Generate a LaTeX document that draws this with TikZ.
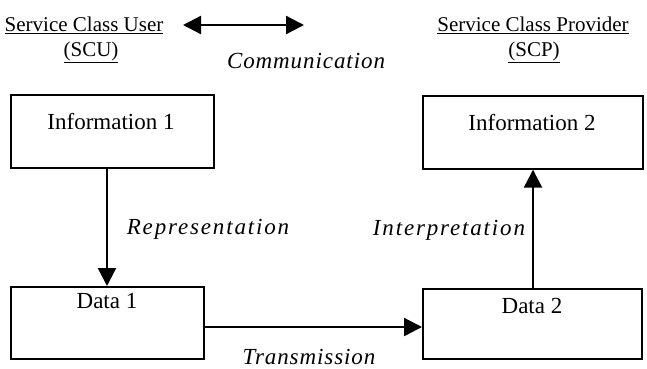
\documentclass[tikz,border=0pt]{standalone}
\usepackage{fontspec}
\setmainfont{Liberation Serif}
\usetikzlibrary{arrows.meta}
\tikzset{
  box/.style={draw, line width=1.7pt, inner sep=0pt},
  conn/.style={line width=2.3pt, -{Triangle[width=18pt,length=18pt]}},
  boxtext/.style={font=\fontsize{23}{26}\selectfont, inner sep=0pt},
  lbl/.style={font=\fontsize{23}{27}\selectfont\itshape, inner sep=0pt},
  hdr/.style={font=\fontsize{21}{24}\selectfont, inner sep=0pt}
}
\begin{document}
\begin{tikzpicture}[x=1pt,y=-1pt]
\useasboundingbox (0,0) rectangle (647,368);
% boxes
\node[box, minimum width=203pt, minimum height=73pt, anchor=north west] (info1) at (10,94) {};
\node[box, minimum width=193pt, minimum height=72pt, anchor=north west] (data1) at (10,286) {};
\node[box, minimum width=220pt, minimum height=73pt, anchor=north west] (info2) at (422,95) {};
\node[box, minimum width=219pt, minimum height=70pt, anchor=north west] (data2) at (422,288) {};
% box texts
\node[boxtext] (t1) at (111,122) {Information 1};
\node[boxtext] (t2) at (107,301) {Data 1};
\node[boxtext] (t3) at (532,123) {Information 2};
\node[boxtext] (t4) at (532,306) {Data 2};
% connectors
\draw[conn] (info1.south -| 107,0) -- (data1.north -| 107,0);
\draw[conn] (data2.north -| 533,0) -- (info2.south -| 533,0);
\draw[conn] (data1.east |- 0,327) -- (data2.west |- 0,327);
% labels
\node[lbl] (rep) at (208,229) {\addfontfeature{LetterSpace=8}Representation};
\node[lbl] (int) at (449,230) {\addfontfeature{LetterSpace=8}Interpretation};
\node[lbl] (tra) at (309,357) {\addfontfeature{LetterSpace=4}Transmission};
\node[lbl] (com) at (306,61) {\addfontfeature{LetterSpace=4}Communication};
% header
\node[hdr] (scu1) at (84,25) {\underline{Service Class User}};
\node[hdr] (scu2) at (91,52) {\underline{(SCU)}};
\node[hdr] (scp1) at (533,25) {\underline{Service Class Provider}};
\node[hdr] (scp2) at (534,52) {\underline{(SCP)}};
\coordinate (cl) at (183,25);
\coordinate (cr) at (304,25);
\draw[line width=2.3pt, {Triangle[width=18pt,length=18pt]}-{Triangle[width=18pt,length=18pt]}] (cl) -- (cr);
\end{tikzpicture}
\end{document}
